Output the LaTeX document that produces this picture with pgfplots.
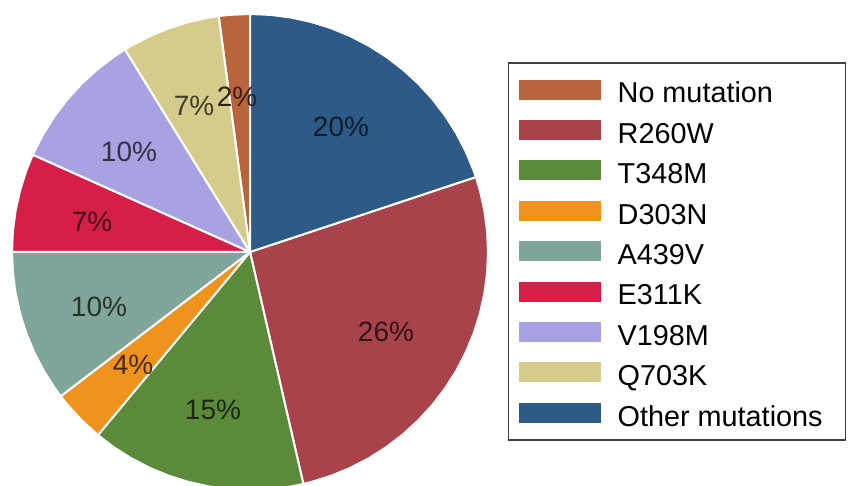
\documentclass[border=0pt]{standalone}
\usepackage{pgfplots}
\pgfplotsset{compat=1.18}
\usepackage{fontspec}
\setmainfont{Liberation Sans}

\definecolor{cnone}{HTML}{B8643C}
\definecolor{cr260}{HTML}{A8434B}
\definecolor{ct348}{HTML}{5B8A3B}
\definecolor{cd303}{HTML}{F0921E}
\definecolor{ca439}{HTML}{80A69B}
\definecolor{ce311}{HTML}{D61F48}
\definecolor{cv198}{HTML}{A9A2E2}
\definecolor{cq703}{HTML}{D5CC8C}
\definecolor{cother}{HTML}{2E5A87}

\pgfplotsset{wedge/.style={fill=#1, draw=white, line width=1pt, data cs=polar, mark=none}}

\begin{document}
\begin{tikzpicture}
\begin{axis}[
  width=425pt, height=243pt, scale only axis,
  xmin=-250, xmax=600, ymin=-234, ymax=252,
  hide axis,
  legend style={at={(0.5976,0.8724)}, anchor=north west,
    draw=black!75, line width=0.75pt,
    font=\fontsize{14.4}{16}\selectfont,
    inner xsep=5pt, inner ysep=6.8pt,
    row sep=6.9pt, column sep=8.5pt,
    nodes={inner sep=0pt, text height=13.3pt, text depth=0pt}},
  legend cell align=left,
  legend image code/.code={\fill[#1, draw=none] (0pt,-5pt) rectangle (41pt,5pt);},
]

% angles in degrees, counter-clockwise, radius 238
\addplot[wedge=cnone] coordinates {(0,0) (90,238) (95,238) (97.56,238) (0,0)};
\addlegendentry{No mutation}

\addplot[wedge=cr260] coordinates {(0,0) (282.96,238) (285,238) (290,238) (295,238)
  (300,238) (305,238) (310,238) (315,238) (320,238) (325,238) (330,238) (335,238)
  (340,238) (345,238) (350,238) (355,238) (360,238) (365,238) (370,238) (375,238)
  (378.36,238) (0,0)};
\addlegendentry{R260W}

\addplot[wedge=ct348] coordinates {(0,0) (230.3,238) (235,238) (240,238) (245,238)
  (250,238) (255,238) (260,238) (265,238) (270,238) (275,238) (280,238)
  (282.96,238) (0,0)};
\addlegendentry{T348M}

\addplot[wedge=cd303] coordinates {(0,0) (217.3,238) (220,238) (225,238) (230.3,238) (0,0)};
\addlegendentry{D303N}

\addplot[wedge=ca439] coordinates {(0,0) (180,238) (185,238) (190,238) (195,238)
  (200,238) (205,238) (210,238) (215,238) (217.3,238) (0,0)};
\addlegendentry{A439V}

\addplot[wedge=ce311] coordinates {(0,0) (155.88,238) (160,238) (165,238) (170,238)
  (175,238) (180,238) (0,0)};
\addlegendentry{E311K}

\addplot[wedge=cv198] coordinates {(0,0) (121.68,238) (125,238) (130,238) (135,238)
  (140,238) (145,238) (150,238) (155,238) (155.88,238) (0,0)};
\addlegendentry{V198M}

\addplot[wedge=cq703] coordinates {(0,0) (97.56,238) (100,238) (105,238) (110,238)
  (115,238) (120,238) (121.68,238) (0,0)};
\addlegendentry{Q703K}

\addplot[wedge=cother] coordinates {(0,0) (378.36,238) (380,238) (385,238) (390,238)
  (395,238) (400,238) (405,238) (410,238) (415,238) (420,238) (425,238) (430,238)
  (435,238) (440,238) (445,238) (450,238) (0,0)};
\addlegendentry{Other mutations\hspace*{6.5pt}\mbox{}}

\begin{scope}[every node/.style={font=\fontsize{14}{16}\selectfont}]
\node[text=cother!30!black] at (axis cs:91,125) {20\%};
\node[text=cr260!30!black] at (axis cs:136,-80) {26\%};
\node[text=ct348!30!black] at (axis cs:-37,-158) {15\%};
\node[text=cd303!30!black] at (axis cs:-117,-113) {4\%};
\node[text=ca439!30!black] at (axis cs:-151,-55) {10\%};
\node[text=ce311!30!black] at (axis cs:-158,30) {7\%};
\node[text=cv198!30!black] at (axis cs:-121,100) {10\%};
\node[text=cq703!30!black] at (axis cs:-56,146) {7\%};
\node[text=cnone!30!black] at (axis cs:-13,155) {2\%};
\end{scope}
\end{axis}
\path (current axis.south west) rectangle (current axis.north east);
\end{tikzpicture}
\end{document}
